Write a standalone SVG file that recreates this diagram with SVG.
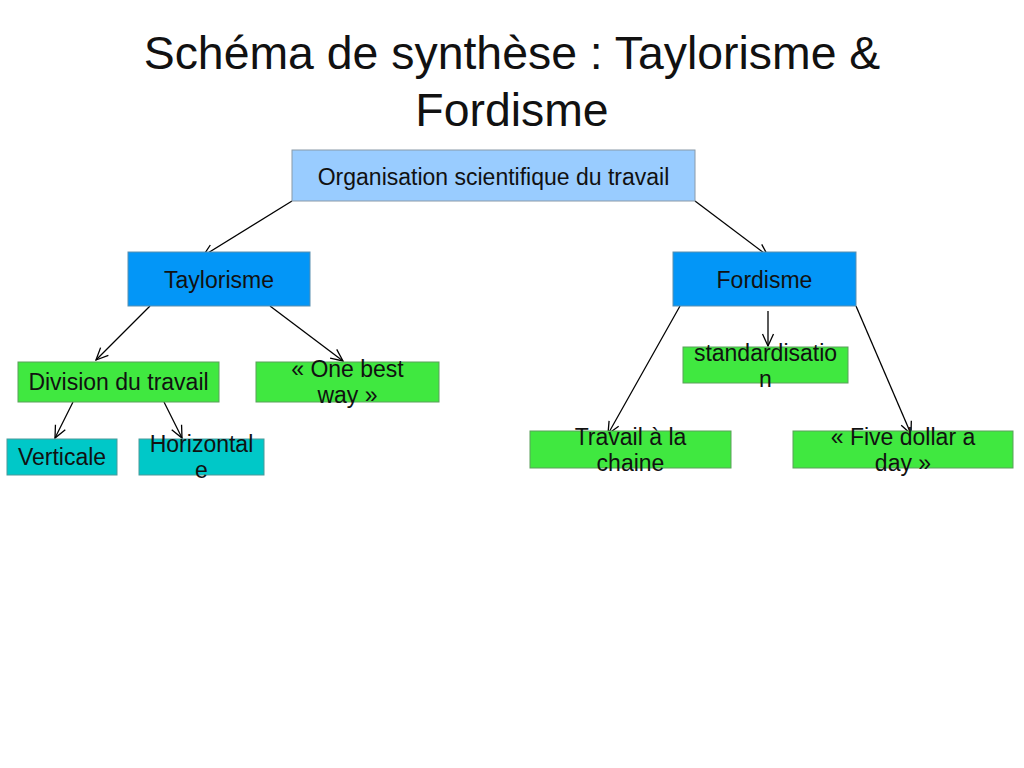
<svg xmlns="http://www.w3.org/2000/svg" width="1024" height="768" viewBox="0 0 1024 768">
  <defs>
    <marker id="open" viewBox="0 0 14 14" refX="13" refY="7" markerWidth="14" markerHeight="14" markerUnits="userSpaceOnUse" orient="auto">
      <path d="M1,1.5 L13,7 L1,12.5" fill="none" stroke="#000" stroke-width="1.3"/>
    </marker>
    <style>
      .title { font-family: "Liberation Sans", Arial, sans-serif; font-size: 46.4px; fill: #111; text-anchor: middle; }
      .lbl { font-family: "Liberation Sans", Arial, sans-serif; font-size: 23px; fill: #111; text-anchor: middle; }
      .root { fill: #99ccff; stroke: #8a9aa8; stroke-width: 1; }
      .blue { fill: #0396f7; stroke: #5a8fb0; stroke-width: 1; }
      .green { fill: #40e840; stroke: #5aa05a; stroke-width: 1; }
      .teal { fill: #00c8c8; stroke: #4a9a9a; stroke-width: 1; }
      .edge { stroke: #000; stroke-width: 1.3; fill: none; marker-end: url(#open); }
    </style>
  </defs>
  <rect width="1024" height="768" fill="#fff"/>

  <text class="title" x="512" y="69">Schéma de synthèse : Taylorisme &amp;</text>
  <text class="title" x="512" y="126">Fordisme</text>

  <g id="connectors">
    <line class="edge" x1="292" y1="201" x2="203" y2="256"/>
    <line class="edge" x1="695" y1="201" x2="768" y2="256"/>
    <line class="edge" x1="150" y1="306" x2="96" y2="360"/>
    <line class="edge" x1="270" y1="306" x2="343" y2="361"/>
    <line class="edge" x1="73" y1="402" x2="55" y2="438"/>
    <line class="edge" x1="164" y1="402" x2="182" y2="438"/>
    <line class="edge" x1="768" y1="311" x2="768" y2="346"/>
    <line class="edge" x1="680" y1="306" x2="608" y2="434"/>
    <line class="edge" x1="856" y1="306" x2="911" y2="434"/>
  </g>

  <g id="osdt">
    <rect class="root" x="292" y="150" width="403" height="51"/>
    <text class="lbl" x="493.5" y="185">Organisation scientifique du travail</text>
  </g>
  <g id="taylorisme">
    <rect class="blue" x="128" y="252" width="182" height="54"/>
    <text class="lbl" x="219" y="288">Taylorisme</text>
  </g>
  <g id="fordisme">
    <rect class="blue" x="673" y="252" width="183" height="54"/>
    <text class="lbl" x="764.5" y="288">Fordisme</text>
  </g>
  <g id="division">
    <rect class="green" x="18" y="362" width="201" height="40"/>
    <text class="lbl" x="118.5" y="390">Division du travail</text>
  </g>
  <g id="one-best-way">
    <rect class="green" x="256" y="362" width="183" height="40"/>
    <text class="lbl" x="347.5" y="377">« One best</text>
    <text class="lbl" x="347.5" y="403">way »</text>
  </g>
  <g id="verticale">
    <rect class="teal" x="7" y="439" width="110" height="36"/>
    <text class="lbl" x="62" y="465">Verticale</text>
  </g>
  <g id="horizontale">
    <rect class="teal" x="139" y="439" width="125" height="36"/>
    <text class="lbl" x="201.5" y="452">Horizontal</text>
    <text class="lbl" x="201.5" y="478">e</text>
  </g>
  <g id="standardisation">
    <rect class="green" x="683" y="347" width="165" height="36"/>
    <text class="lbl" x="765.5" y="361">standardisatio</text>
    <text class="lbl" x="765.5" y="387">n</text>
  </g>
  <g id="travail-chaine">
    <rect class="green" x="530" y="431" width="201" height="37"/>
    <text class="lbl" x="630.5" y="445">Travail à la</text>
    <text class="lbl" x="630.5" y="471">chaine</text>
  </g>
  <g id="five-dollar">
    <rect class="green" x="793" y="431" width="220" height="37"/>
    <text class="lbl" x="903" y="445">« Five  dollar a</text>
    <text class="lbl" x="903" y="471">day »</text>
  </g>
</svg>
